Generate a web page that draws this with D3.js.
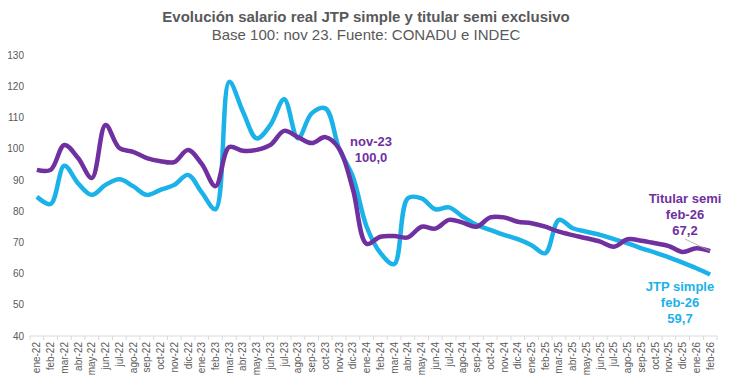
<!DOCTYPE html>
<html>
<head>
<meta charset="utf-8">
<script src="https://cdn.jsdelivr.net/npm/d3@7"></script>
<style>
  body { margin: 0; background: #fff; }
  svg { font-family: "Liberation Sans", Arial, sans-serif; }
</style>
</head>
<body>
<div id="chart"></div>
<script>
// meses ene-22 .. feb-26
var months = ['ene-22','feb-22','mar-22','abr-22','may-22','jun-22','jul-22','ago-22','sep-22','oct-22','nov-22','dic-22',
  'ene-23','feb-23','mar-23','abr-23','may-23','jun-23','jul-23','ago-23','sep-23','oct-23','nov-23','dic-23',
  'ene-24','feb-24','mar-24','abr-24','may-24','jun-24','jul-24','ago-24','sep-24','oct-24','nov-24','dic-24',
  'ene-25','feb-25','mar-25','abr-25','may-25','jun-25','jul-25','ago-25','sep-25','oct-25','nov-25','dic-25',
  'ene-26','feb-26']

var jtpSimple = [84.6, 82.3, 94.5, 88.9, 85.2, 88.4, 90.2, 88.0, 85.2, 86.8, 88.4, 91.6,
  86.0, 80.6, 121.4, 111.8, 103.3, 107.6, 115.8, 103.3, 111.3, 112.9, 100.0, 91.0,
  75.0, 66.6, 63.0, 84.1, 84.1, 80.6, 81.2, 78.2, 75.6, 74.0, 72.4, 71.0,
  69.1, 66.5, 77.2, 74.5, 73.4, 72.4, 71.0, 69.7, 68.1, 66.7, 65.2, 63.5,
  61.7, 59.7]

var titularSemi = [93.2, 93.2, 101.2, 97.0, 90.6, 107.6, 100.2, 99.0, 97.0, 96.0, 95.7, 99.6,
  95.1, 88.0, 100.5, 99.3, 99.6, 101.2, 105.7, 103.7, 101.8, 103.7, 100.0, 87.0,
  69.5, 71.8, 72.0, 71.6, 75.0, 74.4, 77.2, 76.3, 75.0, 78.0, 78.0, 76.6,
  76.1, 75.0, 73.4, 72.3, 71.3, 70.2, 68.6, 71.0, 70.5, 69.7, 68.8, 66.9,
  68.1, 67.2]

var yTicks = [40, 50, 60, 70, 80, 90, 100, 110, 120, 130]

var width = 730, height = 380
var plotLeft = 30, plotRight = 717, plotTop = 55, plotBottom = 336

var svg = d3.select('#chart')
  .append('svg')
  .attr('width', width)
  .attr('height', height)

var x = d3.scalePoint()
  .domain(months)
  .range([plotLeft, plotRight])
  .padding(0.5)

var y = d3.scaleLinear()
  .domain([40, 130])
  .range([plotBottom, plotTop])

// titulo
svg.append('text')
  .attr('x', 366).attr('y', 22)
  .attr('text-anchor', 'middle')
  .attr('font-size', 15).attr('font-weight', 'bold')
  .attr('fill', '#595959')
  .text('Evolución salario real JTP simple y titular semi exclusivo')

svg.append('text')
  .attr('x', 366).attr('y', 39.5)
  .attr('text-anchor', 'middle')
  .attr('font-size', 15)
  .attr('fill', '#595959')
  .text('Base 100: nov 23. Fuente: CONADU e INDEC')

// eje y
var yAxis = svg.append('g')
  .attr('transform', 'translate(' + (plotLeft - 3) + ',0)')
  .call(d3.axisLeft(y).tickValues(yTicks).tickSize(0).tickPadding(3))
yAxis.select('.domain').remove()
yAxis.selectAll('text')
  .attr('font-size', 10)
  .attr('font-family', '"Liberation Sans", Arial, sans-serif')
  .attr('fill', '#595959')

// eje x
svg.append('line')
  .attr('x1', plotLeft).attr('x2', plotRight)
  .attr('y1', plotBottom).attr('y2', plotBottom)
  .attr('stroke', '#d9d9d9').attr('stroke-width', 1)

var step = x.step()
svg.append('g')
  .selectAll('line')
  .data(d3.range(months.length + 1))
  .enter()
  .append('line')
  .attr('x1', function(i) { return plotLeft + i * step })
  .attr('x2', function(i) { return plotLeft + i * step })
  .attr('y1', plotBottom).attr('y2', plotBottom + 4)
  .attr('stroke', '#d9d9d9')

svg.append('g')
  .selectAll('text')
  .data(months)
  .enter()
  .append('text')
  .attr('transform', function(d) { return 'translate(' + (x(d) + 3.5) + ',' + (plotBottom + 6) + ') rotate(-90)' })
  .attr('text-anchor', 'end')
  .attr('font-size', 10)
  .attr('fill', '#595959')
  .text(function(d) { return d })

// lineas
var line = d3.line()
  .x(function(d, i) { return x(months[i]) })
  .y(function(d) { return y(d) })
  .curve(d3.curveCatmullRom.alpha(0.5))

svg.append('path')
  .datum(jtpSimple)
  .attr('d', line)
  .attr('fill', 'none')
  .attr('stroke', '#1ab2e8')
  .attr('stroke-width', 4.5)
  .attr('stroke-linejoin', 'round')

svg.append('path')
  .datum(titularSemi)
  .attr('d', line)
  .attr('fill', 'none')
  .attr('stroke', '#7030a0')
  .attr('stroke-width', 4.5)
  .attr('stroke-linejoin', 'round')

// etiquetas
function label(lines, cx, cy, color) {
  var t = svg.append('text')
    .attr('text-anchor', 'middle')
    .attr('font-size', 13)
    .attr('font-weight', 'bold')
    .attr('fill', color)
  lines.forEach(function(s, i) {
    t.append('tspan').attr('x', cx).attr('y', cy + i * 16).text(s)
  })
}

var last = months.length - 1
label(['nov-23', d3.format('.1f')(titularSemi[22]).replace('.', ',')], 371, 146, '#7030a0')

svg.append('line')
  .attr('x1', 685).attr('y1', 239)
  .attr('x2', x(months[last])).attr('y2', y(titularSemi[last]))
  .attr('stroke', '#a6a6a6').attr('stroke-width', 0.8)

label(['Titular semi', months[last], String(titularSemi[last]).replace('.', ',')], 685, 203, '#7030a0')
label(['JTP simple', months[last], String(jtpSimple[last]).replace('.', ',')], 680, 291, '#1ab2e8')
</script>
</body>
</html>
